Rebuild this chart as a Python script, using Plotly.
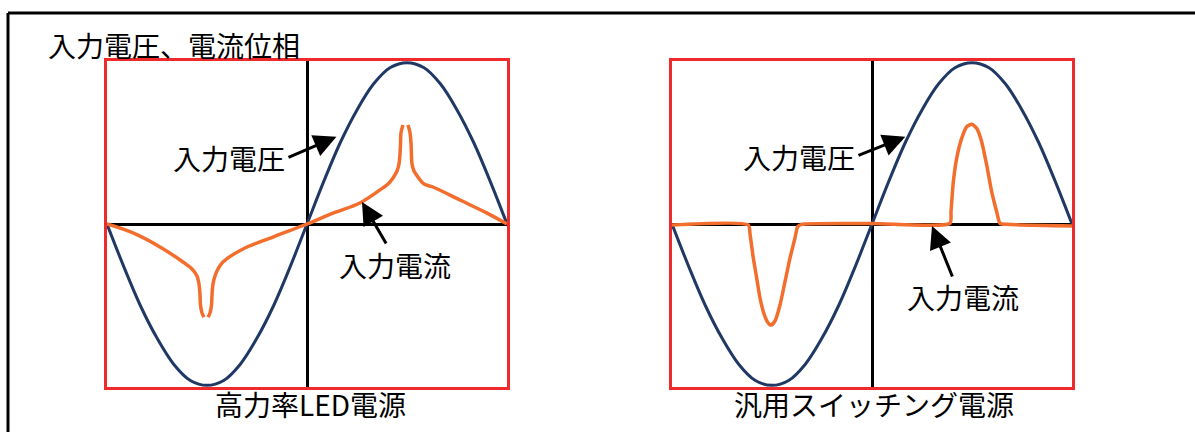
import plotly.graph_objects as go

## Phase in degrees over one mains cycle, values normalised to the peak voltage

# input voltage (same in both panels)
volt_x = [-180, -165, -150, -135, -120, -105, -90, -75, -60, -45, -30, -15, 0,
          15, 30, 45, 60, 75, 90, 105, 120, 135, 150, 165, 180]
volt_y = [0, -0.26, -0.5, -0.7, -0.86, -0.96, -0.99, -0.96, -0.86, -0.7, -0.5, -0.26, 0,
          0.26, 0.5, 0.7, 0.86, 0.96, 0.99, 0.96, 0.86, 0.7, 0.5, 0.26, 0]

# input current, high power factor LED supply (None = small gap at the cusp tips)
led_x = [-180, -156.6, -132.3, -111.6, -103.5, -99, -97.2, -96.3, -95.85, -94.5, -92.7, None,
         -89.1, -87.3, -85.95, -85.5, -84.6, -82.8, -80.1, -75.6, -57.6, -30.6, 0,
         23.4, 47.7, 65.7, 72.9, 77.4, 81, 82.8, 83.7, 84.2, 84.6, 86.4, None,
         90.9, 92.7, 93.6, 94, 94.5, 96.3, 99.9, 105.3, 113.4, 137.7, 162, 180]
led_y = [0, -0.055, -0.141, -0.233, -0.276, -0.319, -0.368, -0.436, -0.497, -0.546, -0.571, None,
         -0.571, -0.546, -0.497, -0.436, -0.368, -0.319, -0.276, -0.233, -0.153, -0.08, 0,
         0.067, 0.129, 0.209, 0.245, 0.282, 0.325, 0.368, 0.43, 0.497, 0.56, 0.607, None,
         0.607, 0.56, 0.497, 0.43, 0.368, 0.325, 0.288, 0.245, 0.227, 0.147, 0.067, 0]

# input current, general switching supply
sw_x = [-180, -111.3, -109.8, -106.8, -103.8, -100.8, -97.8, -94.2, -90.9, -87.3, -82.8,
        -78.3, -73.8, -69.3, -66.9, -63.3, 0,
        70.2, 71.1, 73.2, 76.2, 80.7, 85.2, 89.7, 94.2, 98.7, 103.2, 107.7, 112.2, 115.2, 121.2, 180]
sw_y = [-0.006, -0.006, -0.061, -0.21, -0.331, -0.454, -0.538, -0.599, -0.62, -0.595, -0.497,
        -0.354, -0.209, -0.086, -0.016, -0.002, 0.003,
        0.004, 0.075, 0.259, 0.403, 0.525, 0.597, 0.612, 0.587, 0.505, 0.362, 0.198, 0.075, 0.004, -0.002, -0.012]

panel_titles = ["高力率LED電源", "汎用スイッチング電源"]
main_title = "入力電圧、電流位相"
volt_label = "入力電圧"
curr_label = "入力電流"

NAVY = "#203864"
ORANGE = "#F36D2C"
RED = "#EE2A2A"
FONT = "Noto Sans CJK JP"
W, H = 1195, 432

fig = go.Figure()

fig.add_trace(go.Scatter(x=volt_x, y=volt_y, mode="lines", line=dict(color=NAVY, width=3, shape="spline"),
                         xaxis="x", yaxis="y"))
fig.add_trace(go.Scatter(x=led_x, y=led_y, mode="lines", line=dict(color=ORANGE, width=3.5, shape="spline", smoothing=1),
                         connectgaps=False, xaxis="x", yaxis="y"))
fig.add_trace(go.Scatter(x=volt_x, y=volt_y, mode="lines", line=dict(color=NAVY, width=3, shape="spline"),
                         xaxis="x2", yaxis="y2"))
fig.add_trace(go.Scatter(x=sw_x, y=sw_y, mode="lines", line=dict(color=ORANGE, width=3.5, shape="spline", smoothing=0.6),
                         xaxis="x2", yaxis="y2"))

## Axes: red box around each panel, black zero lines
ydom = [1 - 387 / H, 1 - 61 / H]
ax_common = dict(showgrid=False, showticklabels=False, ticks="", zeroline=True, zerolinecolor="black",
                 zerolinewidth=3, showline=True, mirror=True, linecolor=RED, linewidth=3, fixedrange=True)
fig.update_layout(
    xaxis=dict(domain=[107 / W, 507 / W], range=[-180, 180], anchor="y", **ax_common),
    yaxis=dict(domain=ydom, range=[-1, 1], anchor="x", **ax_common),
    xaxis2=dict(domain=[672 / W, 1072 / W], range=[-180, 180], anchor="y2", **ax_common),
    yaxis2=dict(domain=ydom, range=[-1, 1], anchor="x2", **ax_common),
)

## Outer frame (top and left edges only)
fig.add_shape(type="line", xref="paper", yref="paper", x0=8 / W, y0=1 - 13 / H, x1=1, y1=1 - 13 / H,
              line=dict(color="black", width=3))
fig.add_shape(type="line", xref="paper", yref="paper", x0=8 / W, y0=1 - 13 / H, x1=8 / W, y1=0,
              line=dict(color="black", width=3))

txt = dict(family=FONT, size=28, color="black")

fig.add_annotation(text=main_title, xref="paper", yref="paper", x=46 / W, y=1 - 45 / H,
                   xanchor="left", yanchor="middle", showarrow=False, font=txt)

## Labels and arrows, per panel: (xref, yref, volt text pos, volt arrow, curr text pos, curr arrow, title x px)
panels = [
    ("x", "y", (-18, 0.405), (-18, 0.405, 26.5, 0.535), (27, -0.252), (72, -0.129, 49.5, 0.135), 310),
    ("x2", "y2", (-13.5, 0.411), (-13.5, 0.417, 30, 0.535), (29.7, -0.448), (72.9, -0.331, 54, -0.012), 874),
]
for (xr, yr, vt, va, ct, ca, tx), title in zip(panels, panel_titles):
    fig.add_annotation(text=volt_label, xref=xr, yref=yr, x=vt[0], y=vt[1], xanchor="right", yanchor="middle",
                       showarrow=False, font=txt)
    fig.add_annotation(text=curr_label, xref=xr, yref=yr, x=ct[0], y=ct[1], xanchor="left", yanchor="middle",
                       showarrow=False, font=txt)
    for a in (va, ca):
        fig.add_annotation(text="", xref=xr, yref=yr, axref=xr, ayref=yr, ax=a[0], ay=a[1], x=a[2], y=a[3],
                           showarrow=True, arrowhead=2, arrowsize=1.5, arrowwidth=3, arrowcolor="black",
                           standoff=0, startstandoff=0)
    fig.add_annotation(text=title, xref="paper", yref="paper", x=tx / W, y=1 - 404 / H,
                       xanchor="center", yanchor="middle", showarrow=False, font=txt)

fig.update_layout(
    width=W, height=H, autosize=False,
    margin=dict(l=0, r=0, t=0, b=0),
    paper_bgcolor="white", plot_bgcolor="white",
    showlegend=False,
)

# page has a default 8px body margin; drop it so the figure sits at the window origin
fig.write_html("out.html", config={"displayModeBar": False},
               post_script="document.body.style.margin='0px';")
